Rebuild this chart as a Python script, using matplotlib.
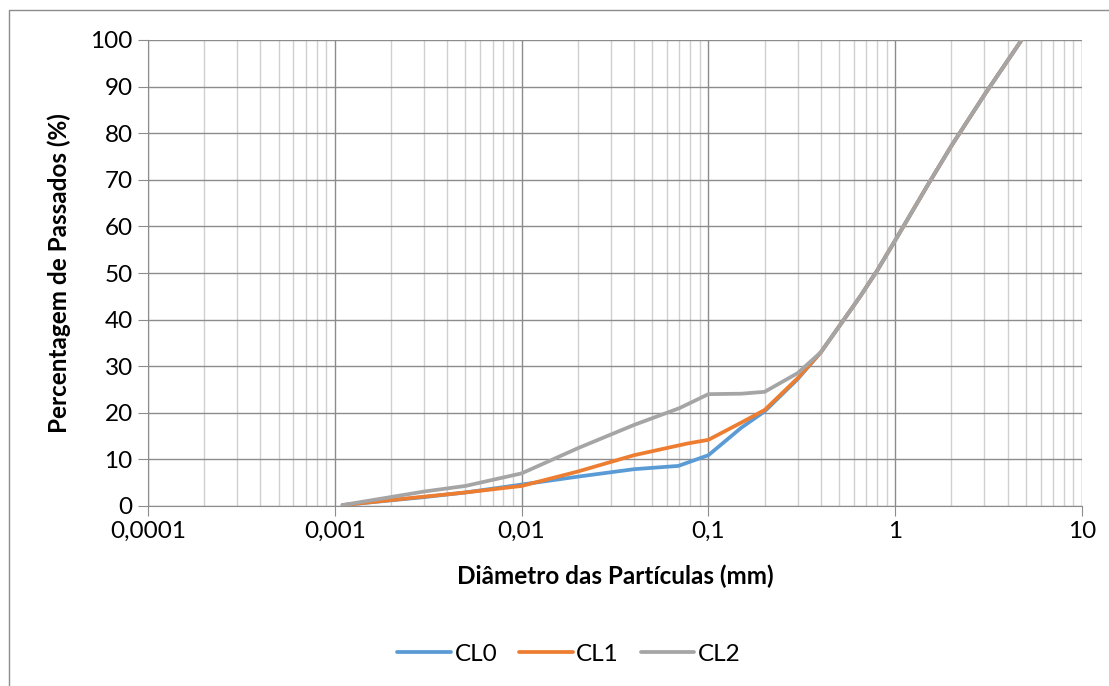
import matplotlib

matplotlib.use("Agg")
import matplotlib.pyplot as plt
from matplotlib.lines import Line2D
from matplotlib.ticker import FixedLocator, NullFormatter, FixedFormatter

# Values (diameter in mm, % passing)
CL0_D = [0.0011, 0.003, 0.005, 0.01, 0.02, 0.04, 0.069, 0.1, 0.15, 0.2, 0.3, 0.4, 0.5, 0.65, 0.8, 1.0, 1.5, 2.0, 3.0, 4.75]
CL0_P = [0.2, 1.9, 2.9, 4.6, 6.3, 7.9, 8.6, 10.9, 16.8, 20.3, 27.2, 33.0, 38.5, 45.0, 50.5, 57.0, 69.0, 77.3, 88.2, 100.0]

CL1_D = [0.0011, 0.003, 0.005, 0.01, 0.02, 0.04, 0.077, 0.1, 0.15, 0.2, 0.3, 0.4, 0.5, 0.65, 0.8, 1.0, 1.5, 2.0, 3.0, 4.75]
CL1_P = [0.2, 2.0, 2.9, 4.3, 7.4, 10.9, 13.4, 14.2, 17.9, 20.6, 27.4, 33.0, 38.5, 45.0, 50.5, 57.0, 69.0, 77.3, 88.2, 100.0]

CL2_D = [0.0011, 0.003, 0.005, 0.01, 0.02, 0.04, 0.07, 0.1, 0.15, 0.2, 0.3, 0.4, 0.5, 0.65, 0.8, 1.0, 1.5, 2.0, 3.0, 4.75]
CL2_P = [0.2, 3.1, 4.3, 7.0, 12.4, 17.4, 21.0, 24.0, 24.1, 24.5, 28.5, 33.0, 38.5, 45.0, 50.5, 57.0, 69.0, 77.3, 88.2, 100.0]

X_TICKS = [0.0001, 0.001, 0.01, 0.1, 1, 10]
X_LABELS = ["0,0001", "0,001", "0,01", "0,1", "1", "10"]
Y_TICKS = list(range(0, 101, 10))

plt.rcParams["font.family"] = ["Lato", "DejaVu Sans"]
FS = 17.5

fig = plt.figure(figsize=(11.09, 6.86), dpi=100)
ax = fig.add_axes([148 / 1109, 1 - 506 / 686, (1082 - 148) / 1109, (506 - 40) / 686])

series = [
    ("CL0", CL0_D, CL0_P, "#5B9BD5"),
    ("CL1", CL1_D, CL1_P, "#ED7D31"),
    ("CL2", CL2_D, CL2_P, "#A5A5A5"),
]
for name, d, p, color in series:
    ax.plot(d, p, color=color, lw=2.7, label=name, solid_capstyle="round",
            solid_joinstyle="round", zorder=3)

ax.set_xscale("log")
ax.set_xlim(0.0001, 10)
ax.set_ylim(0, 100)

ax.xaxis.set_major_locator(FixedLocator(X_TICKS))
ax.xaxis.set_major_formatter(FixedFormatter(X_LABELS))
minors = [m * 10.0 ** e for e in range(-4, 1) for m in range(2, 10)]
ax.xaxis.set_minor_locator(FixedLocator(minors))
ax.xaxis.set_minor_formatter(NullFormatter())
ax.set_yticks(Y_TICKS)

ax.grid(True, which="major", axis="x", color="#8c8c8c", lw=1.0)
ax.grid(True, which="minor", axis="x", color="#d0d0d0", lw=1.0)
ax.grid(True, which="major", axis="y", color="#8c8c8c", lw=1.0)
ax.set_axisbelow(True)

for side in ["top", "right"]:
    ax.spines[side].set_visible(False)
for side in ["left", "bottom"]:
    ax.spines[side].set_color("#8c8c8c")
ax.tick_params(axis="both", which="major", length=7, color="#8c8c8c",
               labelsize=FS, labelcolor="black", pad=4)
ax.tick_params(axis="x", which="minor", length=0)

ax.set_xlabel("Diâmetro das Partículas (mm)", fontsize=FS, fontweight="bold", labelpad=16)
ax.set_ylabel("Percentagem de Passados (%)", fontsize=FS, fontweight="bold", labelpad=14)

fig.legend(loc="center", bbox_to_anchor=(569 / 1109, 1 - 654 / 686), ncol=3,
           frameon=False, fontsize=FS, handlelength=2.2, columnspacing=0.9,
           handletextpad=0.15)

# chart-area border: only top and left edges fall inside the image
fig.lines.append(Line2D([9 / 1109, 9 / 1109, 1.0], [0.0, 1 - 10 / 686, 1 - 10 / 686],
                        transform=fig.transFigure, color="#8c8c8c", lw=1.0))

fig.savefig("out.png", dpi=100)
